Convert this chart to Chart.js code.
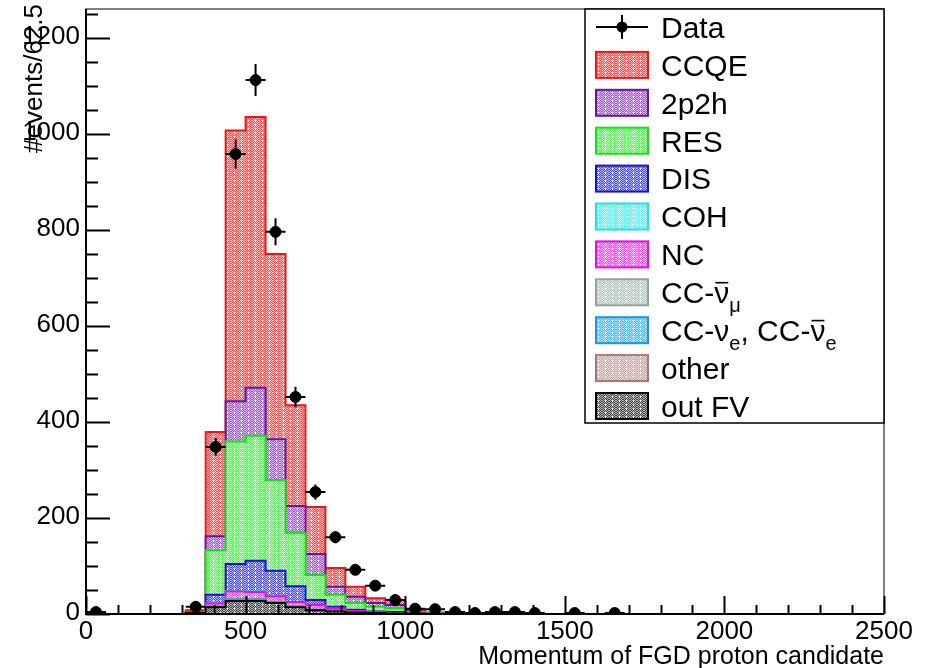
<!DOCTYPE html>
<html>
<head>
<meta charset="utf-8">
<script src="https://cdn.jsdelivr.net/npm/chart.js@4.4.1/dist/chart.umd.min.js"></script>
<style>
  html, body { margin: 0; padding: 0; background: #fff; }
  #wrap { width: 926px; height: 668px; }
</style>
</head>
<body>
<div id="wrap"><canvas id="chart" width="926" height="668"></canvas></div>
<script>
// Histogram binning: 40 bins of 62.5 from 0 to 2500
const binWidth = 62.5;
const nBins = 40;
const binCenters = Array.from({ length: nBins }, (_, i) => (i + 0.5) * binWidth);
const binEdges = Array.from({ length: nBins + 1 }, (_, i) => i * binWidth);

// Axis ticks
const xTicks = [0, 500, 1000, 1500, 2000, 2500];
const yTicks = [0, 200, 400, 600, 800, 1000, 1200];

// Data points (events per bin), 0 = no point
const dataCounts = [4, 0, 0, 0, 0, 15, 348, 958, 1112, 796, 452, 254, 160, 92, 59, 29, 11, 10, 4, 2,
                    4, 4, 2, 0, 2, 0, 2, 0, 0, 0, 0, 0, 0, 0, 0, 0, 0, 0, 0, 0];

// MC components, listed from the bottom of the stack to the top
const outFV   = [0, 0, 0, 0, 0, 2, 14, 27, 27, 23, 14, 8, 5, 3, 2, 1, 1, 0, 0, 0,
                 0, 0, 0, 0, 0, 0, 0, 0, 0, 0, 0, 0, 0, 0, 0, 0, 0, 0, 0, 0];
const other   = [0, 0, 0, 0, 0, 0, 1, 2, 2, 1, 1, 1, 1, 0, 0, 0, 0, 0, 0, 0,
                 0, 0, 0, 0, 0, 0, 0, 0, 0, 0, 0, 0, 0, 0, 0, 0, 0, 0, 0, 0];
const ccNue   = [0, 0, 0, 0, 0, 0, 0, 1, 1, 1, 0, 0, 0, 0, 0, 0, 0, 0, 0, 0,
                 0, 0, 0, 0, 0, 0, 0, 0, 0, 0, 0, 0, 0, 0, 0, 0, 0, 0, 0, 0];
const ccNumuBar = [0, 0, 0, 0, 0, 0, 1, 1, 1, 1, 1, 0, 0, 0, 0, 0, 0, 0, 0, 0,
                 0, 0, 0, 0, 0, 0, 0, 0, 0, 0, 0, 0, 0, 0, 0, 0, 0, 0, 0, 0];
const nc      = [0, 0, 0, 0, 0, 0, 6, 16, 15, 11, 9, 10, 5, 3, 1, 1, 0, 0, 0, 0,
                 0, 0, 0, 0, 0, 0, 0, 0, 0, 0, 0, 0, 0, 0, 0, 0, 0, 0, 0, 0];
const coh     = [0, 0, 0, 0, 0, 0, 0, 1, 1, 0, 0, 0, 0, 0, 0, 0, 0, 0, 0, 0,
                 0, 0, 0, 0, 0, 0, 0, 0, 0, 0, 0, 0, 0, 0, 0, 0, 0, 0, 0, 0];
const dis     = [0, 0, 0, 0, 0, 0, 18, 56, 64, 53, 33, 10, 4, 3, 2, 2, 1, 0, 0, 0,
                 0, 0, 0, 0, 0, 0, 0, 0, 0, 0, 0, 0, 0, 0, 0, 0, 0, 0, 0, 0];
const res     = [0, 0, 0, 0, 0, 1, 93, 255, 260, 189, 111, 52, 25, 14, 10, 8, 2, 1, 0, 0,
                 0, 0, 0, 0, 0, 0, 0, 0, 0, 0, 0, 0, 0, 0, 0, 0, 0, 0, 0, 0];
const twoP2h  = [0, 0, 0, 0, 0, 1, 29, 84, 100, 85, 56, 44, 17, 13, 8, 7, 1, 0, 0, 0,
                 0, 0, 0, 0, 0, 0, 0, 0, 0, 0, 0, 0, 0, 0, 0, 0, 0, 0, 0, 0];
const ccqe    = [0, 0, 0, 0, 0, 4, 217, 564, 564, 386, 210, 98, 39, 21, 10, 10, 3, 2, 1, 0,
                 0, 0, 0, 0, 0, 0, 0, 0, 0, 0, 0, 0, 0, 0, 0, 0, 0, 0, 0, 0];

// Stack layers (bottom to top) with their look
const layers = [
    { label: [{ t: 'out FV' }], values: outFV, fill: '#2a2a2a', line: '#000000' },
    { label: [{ t: 'other' }], values: other, fill: '#c49898', line: '#a07878' },
    { label: [{ t: 'CC-ν' }, { t: 'e', sub: true }, { t: ', CC-' }, { t: 'ν', bar: true }, { t: 'e', sub: true }],
      values: ccNue, fill: '#30b0f0', line: '#1898e0' },
    { label: [{ t: 'CC-' }, { t: 'ν', bar: true }, { t: 'μ', sub: true }],
      values: ccNumuBar, fill: '#a8bcb4', line: '#90a49c' },
    { label: [{ t: 'NC' }], values: nc, fill: '#f030f0', line: '#e010e0' },
    { label: [{ t: 'COH' }], values: coh, fill: '#40f0f0', line: '#20e0e0' },
    { label: [{ t: 'DIS' }], values: dis, fill: '#3030e0', line: '#1414c8' },
    { label: [{ t: 'RES' }], values: res, fill: '#40f040', line: '#14e014' },
    { label: [{ t: '2p2h' }], values: twoP2h, fill: '#9040c0', line: '#6a14a0' },
    { label: [{ t: 'CCQE' }], values: ccqe, fill: '#f03838', line: '#e81818' }
];

const canvas = document.getElementById('chart');
const mainCtx = canvas.getContext('2d');

// lighten a hex colour towards white
function mix(hex, t) {
    const n = parseInt(hex.slice(1), 16);
    const r = (n >> 16) & 255, g = (n >> 8) & 255, b = n & 255;
    const f = v => Math.round(v + (255 - v) * t);
    return 'rgb(' + f(r) + ',' + f(g) + ',' + f(b) + ')';
}

// ROOT-like dotted fill pattern
function makePattern(color) {
    const c = document.createElement('canvas');
    c.width = 7; c.height = 4;
    const g = c.getContext('2d');
    g.fillStyle = mix(color, 0.12);
    g.fillRect(0, 0, 7, 4);
    g.fillStyle = mix(color, 0.65);
    for (let y = 0; y < 4; y++) {
        for (let x = 0; x < 7; x++) {
            if ((x + y) % 2 === 0) g.fillRect(x, y, 1, 1);
        }
    }
    g.fillStyle = '#ffffff';
    g.fillRect(3, 0, 1, 2);
    return mainCtx.createPattern(c, 'repeat');
}

// Build cumulative sums so each layer is drawn as its stacked top
let running = new Array(nBins).fill(0);
layers.forEach(layer => {
    running = running.map((v, i) => v + layer.values[i]);
    layer.cum = running.slice();
    layer.pattern = makePattern(layer.fill);
});

// Datasets: index 0 is drawn last (on top)
const datasets = [];
datasets.push({
    type: 'line',
    label: 'Data',
    data: binCenters.map((x, i) => ({ x: x, y: dataCounts[i] > 0 ? dataCounts[i] : null })),
    showLine: false,
    pointRadius: 5.5,
    pointHoverRadius: 5.5,
    pointBackgroundColor: '#000',
    pointBorderColor: '#000',
    borderColor: '#000'
});
layers.forEach(layer => {
    // outline as a step line
    datasets.push({
        type: 'line',
        label: layer.label.map(s => s.t).join(''),
        data: binEdges.map((x, i) => ({ x: x, y: layer.cum[Math.min(i, nBins - 1)] })),
        stepped: true,
        borderColor: layer.line,
        borderWidth: 2,
        pointRadius: 0,
        fill: false,
        tension: 0
    });
    datasets.push({
        type: 'bar',
        label: layer.label.map(s => s.t).join(''),
        data: binCenters.map((x, i) => ({ x: x, y: layer.cum[i] > 0 ? layer.cum[i] : null })),
        backgroundColor: layer.pattern,
        borderWidth: 0,
        grouped: false,
        barPercentage: 1.0,
        categoryPercentage: 1.0
    });
});

const font = 'Liberation Sans, Arial, sans-serif';

// Axes, error bars, legend and titles in ROOT style
const rootStyle = {
    id: 'rootStyle',
    afterDatasetsDraw(chart) {
        const ctx = chart.ctx;
        const xs = chart.scales.x, ys = chart.scales.y;
        ctx.save();
        ctx.strokeStyle = '#000';
        ctx.lineWidth = 2;
        dataCounts.forEach((n, i) => {
            if (n <= 0) return;
            const cx = xs.getPixelForValue(binCenters[i]);
            const cy = ys.getPixelForValue(n);
            const err = Math.sqrt(n);
            ctx.beginPath();
            ctx.moveTo(xs.getPixelForValue(binCenters[i] - binWidth / 2), cy);
            ctx.lineTo(xs.getPixelForValue(binCenters[i] + binWidth / 2), cy);
            ctx.moveTo(cx, ys.getPixelForValue(n - err));
            ctx.lineTo(cx, ys.getPixelForValue(n + err));
            ctx.stroke();
        });
        ctx.restore();
    },
    afterDraw(chart) {
        const ctx = chart.ctx;
        const xs = chart.scales.x, ys = chart.scales.y;
        const a = chart.chartArea;
        ctx.save();

        // frame
        ctx.strokeStyle = '#000';
        ctx.lineWidth = 1;
        ctx.strokeRect(a.left, a.top, a.right - a.left, a.bottom - a.top);
        ctx.lineWidth = 2;
        ctx.beginPath();
        ctx.moveTo(a.left, a.top);
        ctx.lineTo(a.left, a.bottom);
        ctx.lineTo(a.right, a.bottom);
        ctx.stroke();

        // y ticks (inward)
        ctx.lineWidth = 2;
        ctx.beginPath();
        for (let v = 0; v <= ys.max; v += 50) {
            const py = Math.round(ys.getPixelForValue(v)) + 0.5;
            const len = v % 200 === 0 ? 24 : 12;
            ctx.moveTo(a.left, py);
            ctx.lineTo(a.left + len, py);
        }
        // x ticks (inward)
        for (let v = 0; v <= xs.max; v += 100) {
            const px = Math.round(xs.getPixelForValue(v)) + 0.5;
            const len = v % 500 === 0 ? 18 : 9;
            ctx.moveTo(px, a.bottom);
            ctx.lineTo(px, a.bottom - len);
        }
        ctx.stroke();

        // tick labels
        ctx.fillStyle = '#000';
        ctx.font = '26px ' + font;
        ctx.textAlign = 'right';
        ctx.textBaseline = 'middle';
        yTicks.forEach(v => ctx.fillText(String(v), a.left - 6, ys.getPixelForValue(v) - 1));
        ctx.textAlign = 'center';
        ctx.textBaseline = 'top';
        xTicks.forEach(v => ctx.fillText(String(v), xs.getPixelForValue(v), a.bottom + 5));

        // axis titles
        ctx.font = '25px ' + font;
        ctx.textAlign = 'right';
        ctx.textBaseline = 'alphabetic';
        ctx.fillText('Momentum of FGD proton candidate', a.right, 664);
        ctx.save();
        ctx.translate(42, 4);
        ctx.rotate(-Math.PI / 2);
        ctx.font = '26px ' + font;
        ctx.textAlign = 'right';
        ctx.fillText('#events/62.5', 0, 0);
        ctx.restore();

        // legend box
        const lx = 585, ly = 9, lw = 299, lh = 414;
        ctx.fillStyle = '#fff';
        ctx.fillRect(lx, ly, lw, lh);
        ctx.strokeStyle = '#000';
        ctx.lineWidth = 1.5;
        ctx.strokeRect(lx, ly, lw, lh);

        const rowH = 37.9, firstRow = 27;
        const sx = 596, sw = 52, sh = 26, tx = 661;
        const size = 30;

        // Data entry
        ctx.strokeStyle = '#000';
        ctx.lineWidth = 2;
        ctx.beginPath();
        ctx.moveTo(sx, firstRow);
        ctx.lineTo(sx + sw, firstRow);
        ctx.moveTo(sx + sw / 2, firstRow - 12);
        ctx.lineTo(sx + sw / 2, firstRow + 12);
        ctx.stroke();
        ctx.fillStyle = '#000';
        ctx.beginPath();
        ctx.arc(sx + sw / 2, firstRow, 5.5, 0, Math.PI * 2);
        ctx.fill();
        drawLabel(ctx, [{ t: 'Data' }], tx, firstRow, size);

        // MC entries, top of stack first
        layers.slice().reverse().forEach((layer, k) => {
            const cy = firstRow + rowH * (k + 1);
            ctx.fillStyle = layer.pattern;
            ctx.fillRect(sx, cy - sh / 2, sw, sh);
            ctx.strokeStyle = layer.line;
            ctx.lineWidth = 2;
            ctx.strokeRect(sx, cy - sh / 2, sw, sh);
            drawLabel(ctx, layer.label, tx, cy, size);
        });
        ctx.restore();
    }
};

// label with subscripts and overbars
function drawLabel(ctx, parts, x, cy, size) {
    ctx.save();
    ctx.fillStyle = '#000';
    ctx.textAlign = 'left';
    ctx.textBaseline = 'alphabetic';
    const base = cy + size * 0.36;
    let cx = x;
    parts.forEach(p => {
        const fs = p.sub ? Math.round(size * 0.68) : size;
        ctx.font = fs + 'px ' + font;
        const y = p.sub ? base + size * 0.3 : base;
        ctx.fillText(p.t, cx, y);
        const w = ctx.measureText(p.t).width;
        if (p.bar) {
            ctx.strokeStyle = '#000';
            ctx.lineWidth = 1.6;
            ctx.beginPath();
            ctx.moveTo(cx + 1, base - size * 0.68);
            ctx.lineTo(cx + w - 1, base - size * 0.68);
            ctx.stroke();
        }
        cx += w;
    });
    ctx.restore();
}

new Chart(canvas, {
    type: 'bar',
    data: { datasets: datasets },
    options: {
        responsive: false,
        animation: false,
        devicePixelRatio: 1,
        layout: { padding: { left: 86, right: 42, top: 9, bottom: 54 } },
        plugins: {
            legend: { display: false },
            tooltip: { enabled: false }
        },
        scales: {
            x: { type: 'linear', min: 0, max: 2500, offset: false, display: false },
            y: { type: 'linear', min: 0, max: 1260, display: false, stacked: false }
        }
    },
    plugins: [rootStyle]
});
</script>
</body>
</html>
